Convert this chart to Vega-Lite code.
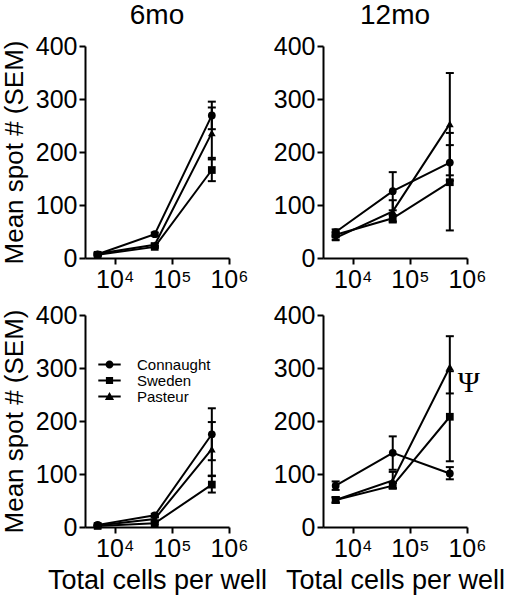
{
  "$schema": "https://vega.github.io/schema/vega-lite/v6.json",
  "background": "white",
  "padding": {"left": 1, "top": 2, "right": 4, "bottom": 4},
  "bounds": "flush",
  "columns": 2,
  "spacing": {"row": 57, "column": 94},
  "resolve": {"scale": {"shape": "independent"}, "legend": {"shape": "independent"}},
  "datasets": {
    "spots": [
      {"age": "6mo", "antigen": "BCG", "strain": "Connaught", "cells": 5000, "mean": 7, "lo": 5, "hi": 9},
      {"age": "6mo", "antigen": "BCG", "strain": "Connaught", "cells": 50000, "mean": 45, "lo": 42, "hi": 48},
      {"age": "6mo", "antigen": "BCG", "strain": "Connaught", "cells": 500000, "mean": 269, "lo": 243, "hi": 295},
      {"age": "6mo", "antigen": "BCG", "strain": "Sweden", "cells": 5000, "mean": 6, "lo": 4, "hi": 8},
      {"age": "6mo", "antigen": "BCG", "strain": "Sweden", "cells": 50000, "mean": 21, "lo": 19, "hi": 23},
      {"age": "6mo", "antigen": "BCG", "strain": "Sweden", "cells": 500000, "mean": 166, "lo": 145, "hi": 189},
      {"age": "6mo", "antigen": "BCG", "strain": "Pasteur", "cells": 5000, "mean": 8, "lo": 6, "hi": 10},
      {"age": "6mo", "antigen": "BCG", "strain": "Pasteur", "cells": 50000, "mean": 25, "lo": 22, "hi": 28},
      {"age": "6mo", "antigen": "BCG", "strain": "Pasteur", "cells": 500000, "mean": 236, "lo": 186, "hi": 284},
      {"age": "12mo", "antigen": "BCG", "strain": "Connaught", "cells": 5000, "mean": 49, "lo": 44, "hi": 54},
      {"age": "12mo", "antigen": "BCG", "strain": "Connaught", "cells": 50000, "mean": 126, "lo": 90, "hi": 162},
      {"age": "12mo", "antigen": "BCG", "strain": "Connaught", "cells": 500000, "mean": 180, "lo": 146, "hi": 213},
      {"age": "12mo", "antigen": "BCG", "strain": "Sweden", "cells": 5000, "mean": 44, "lo": 40, "hi": 48},
      {"age": "12mo", "antigen": "BCG", "strain": "Sweden", "cells": 50000, "mean": 75, "lo": 69, "hi": 81},
      {"age": "12mo", "antigen": "BCG", "strain": "Sweden", "cells": 500000, "mean": 143, "lo": 52, "hi": 236},
      {"age": "12mo", "antigen": "BCG", "strain": "Pasteur", "cells": 5000, "mean": 38, "lo": 34, "hi": 42},
      {"age": "12mo", "antigen": "BCG", "strain": "Pasteur", "cells": 50000, "mean": 88, "lo": 67, "hi": 109},
      {"age": "12mo", "antigen": "BCG", "strain": "Pasteur", "cells": 500000, "mean": 253, "lo": 156, "hi": 349},
      {"age": "6mo", "antigen": "CFP", "strain": "Connaught", "cells": 5000, "mean": 4, "lo": 2, "hi": 6},
      {"age": "6mo", "antigen": "CFP", "strain": "Connaught", "cells": 50000, "mean": 22, "lo": 19, "hi": 25},
      {"age": "6mo", "antigen": "CFP", "strain": "Connaught", "cells": 500000, "mean": 175, "lo": 126, "hi": 224},
      {"age": "6mo", "antigen": "CFP", "strain": "Sweden", "cells": 5000, "mean": 2, "lo": 1, "hi": 3},
      {"age": "6mo", "antigen": "CFP", "strain": "Sweden", "cells": 50000, "mean": 7, "lo": 5, "hi": 9},
      {"age": "6mo", "antigen": "CFP", "strain": "Sweden", "cells": 500000, "mean": 80, "lo": 65, "hi": 96},
      {"age": "6mo", "antigen": "CFP", "strain": "Pasteur", "cells": 5000, "mean": 3, "lo": 2, "hi": 4},
      {"age": "6mo", "antigen": "CFP", "strain": "Pasteur", "cells": 50000, "mean": 15, "lo": 12, "hi": 18},
      {"age": "6mo", "antigen": "CFP", "strain": "Pasteur", "cells": 500000, "mean": 147, "lo": 97, "hi": 198},
      {"age": "12mo", "antigen": "CFP", "strain": "Connaught", "cells": 5000, "mean": 78, "lo": 70, "hi": 86},
      {"age": "12mo", "antigen": "CFP", "strain": "Connaught", "cells": 50000, "mean": 140, "lo": 108, "hi": 171},
      {"age": "12mo", "antigen": "CFP", "strain": "Connaught", "cells": 500000, "mean": 101, "lo": 90, "hi": 113},
      {"age": "12mo", "antigen": "CFP", "strain": "Sweden", "cells": 5000, "mean": 51, "lo": 46, "hi": 56},
      {"age": "12mo", "antigen": "CFP", "strain": "Sweden", "cells": 50000, "mean": 78, "lo": 73, "hi": 83},
      {"age": "12mo", "antigen": "CFP", "strain": "Sweden", "cells": 500000, "mean": 208, "lo": 124, "hi": 294},
      {"age": "12mo", "antigen": "CFP", "strain": "Pasteur", "cells": 5000, "mean": 51, "lo": 46, "hi": 56},
      {"age": "12mo", "antigen": "CFP", "strain": "Pasteur", "cells": 50000, "mean": 88, "lo": 73, "hi": 104},
      {"age": "12mo", "antigen": "CFP", "strain": "Pasteur", "cells": 500000, "mean": 302, "lo": 252, "hi": 360, "note": "Ψ"}
    ],
    "labels": [
      {"age": "6mo", "antigen": "BCG", "label": "BCG"},
      {"age": "12mo", "antigen": "BCG", "label": "BCG"},
      {"age": "6mo", "antigen": "CFP", "label": "CFP"},
      {"age": "12mo", "antigen": "CFP", "label": "CFP"}
    ]
  },
  "concat": [
    {
      "width": 144, "height": 212,
      "title": {"text": "6mo"},
      "data": {"name": "spots"},
      "transform": [{"filter": "datum.age === '6mo' && datum.antigen === 'BCG'"}],
      "encoding": {
        "x": {"field": "cells", "type": "quantitative", "title": null,
              "scale": {"type": "log", "domain": [3000, 1000000]},
              "axis": {"values": [10000, 100000, 1000000], "labelExpr": "datum.value == 10000 ? '10⁴' : datum.value == 100000 ? '10⁵' : '10⁶'"}}
      },
      "layer": [
        {"mark": {"type": "rule", "color": "black", "strokeWidth": 2},
         "encoding": {"y": {"field": "lo", "type": "quantitative", "title": "Mean spot # (SEM)", "scale": {"domain": [0, 400]}, "axis": {"values": [0, 100, 200, 300, 400]}}, "y2": {"field": "hi"}}},
        {"mark": {"type": "tick", "orient": "horizontal", "color": "black", "size": 8, "thickness": 2, "opacity": 1},
         "encoding": {"y": {"field": "lo", "type": "quantitative", "title": "Mean spot # (SEM)", "scale": {"domain": [0, 400]}}}},
        {"mark": {"type": "tick", "orient": "horizontal", "color": "black", "size": 8, "thickness": 2, "opacity": 1},
         "encoding": {"y": {"field": "hi", "type": "quantitative", "title": "Mean spot # (SEM)", "scale": {"domain": [0, 400]}}}},
        {"mark": {"type": "line", "color": "black", "strokeWidth": 2},
         "encoding": {"y": {"field": "mean", "type": "quantitative", "title": "Mean spot # (SEM)", "scale": {"domain": [0, 400]}}, "detail": {"field": "strain"}}},
        {"transform": [{"filter": "datum.strain === 'Connaught'"}],
         "mark": {"type": "point", "shape": "circle", "filled": true, "color": "black", "size": 60, "opacity": 1},
         "encoding": {"y": {"field": "mean", "type": "quantitative", "title": "Mean spot # (SEM)", "scale": {"domain": [0, 400]}}}},
        {"transform": [{"filter": "datum.strain === 'Sweden'"}],
         "mark": {"type": "point", "shape": "square", "filled": true, "color": "black", "size": 60, "opacity": 1},
         "encoding": {"y": {"field": "mean", "type": "quantitative", "title": "Mean spot # (SEM)", "scale": {"domain": [0, 400]}}}},
        {"transform": [{"filter": "datum.strain === 'Pasteur'"}],
         "mark": {"type": "point", "shape": "triangle-up", "filled": true, "color": "black", "size": 60, "opacity": 1},
         "encoding": {"y": {"field": "mean", "type": "quantitative", "title": "Mean spot # (SEM)", "scale": {"domain": [0, 400]}}}},
        {"data": {"name": "labels"},
         "transform": [{"filter": "datum.age === '6mo' && datum.antigen === 'BCG'"}],
         "mark": {"type": "text", "align": "left", "baseline": "alphabetic", "fontSize": 25, "font": "Liberation Sans", "color": "black"},
         "encoding": {"x": {"datum": 5200}, "y": {"datum": 353}, "text": {"field": "label"}}}
      ]
    },
    {
      "width": 144, "height": 212,
      "title": {"text": "12mo"},
      "data": {"name": "spots"},
      "transform": [{"filter": "datum.age === '12mo' && datum.antigen === 'BCG'"}],
      "encoding": {
        "x": {"field": "cells", "type": "quantitative", "title": null,
              "scale": {"type": "log", "domain": [3000, 1000000]},
              "axis": {"values": [10000, 100000, 1000000], "labelExpr": "datum.value == 10000 ? '10⁴' : datum.value == 100000 ? '10⁵' : '10⁶'"}}
      },
      "layer": [
        {"mark": {"type": "rule", "color": "black", "strokeWidth": 2},
         "encoding": {"y": {"field": "lo", "type": "quantitative", "title": null, "scale": {"domain": [0, 400]}, "axis": {"values": [0, 100, 200, 300, 400]}}, "y2": {"field": "hi"}}},
        {"mark": {"type": "tick", "orient": "horizontal", "color": "black", "size": 8, "thickness": 2, "opacity": 1},
         "encoding": {"y": {"field": "lo", "type": "quantitative", "title": null, "scale": {"domain": [0, 400]}}}},
        {"mark": {"type": "tick", "orient": "horizontal", "color": "black", "size": 8, "thickness": 2, "opacity": 1},
         "encoding": {"y": {"field": "hi", "type": "quantitative", "title": null, "scale": {"domain": [0, 400]}}}},
        {"mark": {"type": "line", "color": "black", "strokeWidth": 2},
         "encoding": {"y": {"field": "mean", "type": "quantitative", "title": null, "scale": {"domain": [0, 400]}}, "detail": {"field": "strain"}}},
        {"transform": [{"filter": "datum.strain === 'Connaught'"}],
         "mark": {"type": "point", "shape": "circle", "filled": true, "color": "black", "size": 60, "opacity": 1},
         "encoding": {"y": {"field": "mean", "type": "quantitative", "title": null, "scale": {"domain": [0, 400]}}}},
        {"transform": [{"filter": "datum.strain === 'Sweden'"}],
         "mark": {"type": "point", "shape": "square", "filled": true, "color": "black", "size": 60, "opacity": 1},
         "encoding": {"y": {"field": "mean", "type": "quantitative", "title": null, "scale": {"domain": [0, 400]}}}},
        {"transform": [{"filter": "datum.strain === 'Pasteur'"}],
         "mark": {"type": "point", "shape": "triangle-up", "filled": true, "color": "black", "size": 60, "opacity": 1},
         "encoding": {"y": {"field": "mean", "type": "quantitative", "title": null, "scale": {"domain": [0, 400]}}}},
        {"data": {"name": "labels"},
         "transform": [{"filter": "datum.age === '12mo' && datum.antigen === 'BCG'"}],
         "mark": {"type": "text", "align": "left", "baseline": "alphabetic", "fontSize": 25, "font": "Liberation Sans", "color": "black"},
         "encoding": {"x": {"datum": 5200}, "y": {"datum": 353}, "text": {"field": "label"}}}
      ]
    },
    {
      "width": 144, "height": 212,
      "data": {"name": "spots"},
      "transform": [{"filter": "datum.age === '6mo' && datum.antigen === 'CFP'"}],
      "encoding": {
        "x": {"field": "cells", "type": "quantitative", "title": "Total cells per well",
              "scale": {"type": "log", "domain": [3000, 1000000]},
              "axis": {"values": [10000, 100000, 1000000], "labelExpr": "datum.value == 10000 ? '10⁴' : datum.value == 100000 ? '10⁵' : '10⁶'"}}
      },
      "layer": [
        {"mark": {"type": "rule", "color": "black", "strokeWidth": 2},
         "encoding": {"y": {"field": "lo", "type": "quantitative", "title": "Mean spot # (SEM)", "scale": {"domain": [0, 400]}, "axis": {"values": [0, 100, 200, 300, 400]}}, "y2": {"field": "hi"}}},
        {"mark": {"type": "tick", "orient": "horizontal", "color": "black", "size": 8, "thickness": 2, "opacity": 1},
         "encoding": {"y": {"field": "lo", "type": "quantitative", "title": "Mean spot # (SEM)", "scale": {"domain": [0, 400]}}}},
        {"mark": {"type": "tick", "orient": "horizontal", "color": "black", "size": 8, "thickness": 2, "opacity": 1},
         "encoding": {"y": {"field": "hi", "type": "quantitative", "title": "Mean spot # (SEM)", "scale": {"domain": [0, 400]}}}},
        {"mark": {"type": "line", "color": "black", "strokeWidth": 2},
         "encoding": {"y": {"field": "mean", "type": "quantitative", "title": "Mean spot # (SEM)", "scale": {"domain": [0, 400]}}, "detail": {"field": "strain"}}},
        {"transform": [{"filter": "datum.strain === 'Connaught'"}],
         "mark": {"type": "point", "shape": "circle", "filled": true, "color": "black", "size": 60, "opacity": 1},
         "encoding": {"y": {"field": "mean", "type": "quantitative", "title": "Mean spot # (SEM)", "scale": {"domain": [0, 400]}}}},
        {"transform": [{"filter": "datum.strain === 'Sweden'"}],
         "mark": {"type": "point", "shape": "square", "filled": true, "color": "black", "size": 60, "opacity": 1},
         "encoding": {"y": {"field": "mean", "type": "quantitative", "title": "Mean spot # (SEM)", "scale": {"domain": [0, 400]}}}},
        {"transform": [{"filter": "datum.strain === 'Pasteur'"}],
         "mark": {"type": "point", "shape": "triangle-up", "filled": true, "color": "black", "size": 60, "opacity": 1},
         "encoding": {"y": {"field": "mean", "type": "quantitative", "title": "Mean spot # (SEM)", "scale": {"domain": [0, 400]}}}},
        {"transform": [{"filter": "datum.mean < 0"}],
         "mark": {"type": "point", "filled": true, "color": "black", "size": 64, "opacity": 1},
         "encoding": {"y": {"field": "mean", "type": "quantitative", "title": "Mean spot # (SEM)", "scale": {"domain": [0, 400]}},
                      "shape": {"field": "strain", "type": "nominal",
                                "scale": {"domain": ["Connaught", "Sweden", "Pasteur"],
                                          "range": ["M-2.8,-0.25H2.8V0.25H-2.8Z M-1,0A1,1 0 1,1 1,0A1,1 0 1,1 -1,0Z", "M-2.8,-0.25H2.8V0.25H-2.8Z M-0.9,-0.9H0.9V0.9H-0.9Z", "M-2.8,-0.25H2.8V0.25H-2.8Z M0,-1.1L1.15,0.9H-1.15Z"]},
                                "legend": {"orient": "none", "legendX": 17, "legendY": 42, "title": null, "symbolFillColor": "black"}}}},
        {"data": {"name": "labels"},
         "transform": [{"filter": "datum.age === '6mo' && datum.antigen === 'CFP'"}],
         "mark": {"type": "text", "align": "left", "baseline": "alphabetic", "fontSize": 25, "font": "Liberation Sans", "color": "black"},
         "encoding": {"x": {"datum": 5200}, "y": {"datum": 359}, "text": {"field": "label"}}}
      ]
    },
    {
      "width": 144, "height": 212,
      "data": {"name": "spots"},
      "transform": [{"filter": "datum.age === '12mo' && datum.antigen === 'CFP'"}],
      "encoding": {
        "x": {"field": "cells", "type": "quantitative", "title": "Total cells per well",
              "scale": {"type": "log", "domain": [3000, 1000000]},
              "axis": {"values": [10000, 100000, 1000000], "labelExpr": "datum.value == 10000 ? '10⁴' : datum.value == 100000 ? '10⁵' : '10⁶'"}}
      },
      "layer": [
        {"mark": {"type": "rule", "color": "black", "strokeWidth": 2},
         "encoding": {"y": {"field": "lo", "type": "quantitative", "title": null, "scale": {"domain": [0, 400]}, "axis": {"values": [0, 100, 200, 300, 400]}}, "y2": {"field": "hi"}}},
        {"mark": {"type": "tick", "orient": "horizontal", "color": "black", "size": 8, "thickness": 2, "opacity": 1},
         "encoding": {"y": {"field": "lo", "type": "quantitative", "title": null, "scale": {"domain": [0, 400]}}}},
        {"mark": {"type": "tick", "orient": "horizontal", "color": "black", "size": 8, "thickness": 2, "opacity": 1},
         "encoding": {"y": {"field": "hi", "type": "quantitative", "title": null, "scale": {"domain": [0, 400]}}}},
        {"mark": {"type": "line", "color": "black", "strokeWidth": 2},
         "encoding": {"y": {"field": "mean", "type": "quantitative", "title": null, "scale": {"domain": [0, 400]}}, "detail": {"field": "strain"}}},
        {"transform": [{"filter": "datum.strain === 'Connaught'"}],
         "mark": {"type": "point", "shape": "circle", "filled": true, "color": "black", "size": 60, "opacity": 1},
         "encoding": {"y": {"field": "mean", "type": "quantitative", "title": null, "scale": {"domain": [0, 400]}}}},
        {"transform": [{"filter": "datum.strain === 'Sweden'"}],
         "mark": {"type": "point", "shape": "square", "filled": true, "color": "black", "size": 60, "opacity": 1},
         "encoding": {"y": {"field": "mean", "type": "quantitative", "title": null, "scale": {"domain": [0, 400]}}}},
        {"transform": [{"filter": "datum.strain === 'Pasteur'"}],
         "mark": {"type": "point", "shape": "triangle-up", "filled": true, "color": "black", "size": 60, "opacity": 1},
         "encoding": {"y": {"field": "mean", "type": "quantitative", "title": null, "scale": {"domain": [0, 400]}}}},
        {"transform": [{"filter": "datum.note === 'Ψ'"}],
         "mark": {"type": "text", "align": "center", "baseline": "middle", "fontSize": 30, "font": "Liberation Serif", "color": "black", "dx": 19, "dy": 16},
         "encoding": {"y": {"field": "mean", "type": "quantitative", "title": null, "scale": {"domain": [0, 400]}}, "text": {"field": "note"}}},
        {"data": {"name": "labels"},
         "transform": [{"filter": "datum.age === '12mo' && datum.antigen === 'CFP'"}],
         "mark": {"type": "text", "align": "left", "baseline": "alphabetic", "fontSize": 25, "font": "Liberation Sans", "color": "black"},
         "encoding": {"x": {"datum": 5200}, "y": {"datum": 359}, "text": {"field": "label"}}}
      ]
    }
  ],
  "config": {
    "view": {"stroke": null},
    "font": "Liberation Sans",
    "axis": {
      "grid": false, "domainColor": "black", "domainWidth": 2, "tickColor": "black", "tickWidth": 2, "tickSize": 6,
      "labelFont": "Liberation Sans", "labelFontSize": 25, "labelColor": "black", "labelFlush": false, "labelOverlap": false,
      "titleFont": "Liberation Sans", "titleFontSize": 26, "titleFontWeight": "normal", "titleColor": "black"
    },
    "axisY": {"labelPadding": 2, "titlePadding": 8},
    "axisX": {"labelPadding": 3, "titlePadding": 6, "titleFontSize": 27},
    "title": {"font": "Liberation Sans", "fontSize": 28, "fontWeight": "normal", "color": "black", "anchor": "middle", "frame": "group", "offset": 4, "baseline": "alphabetic"},
    "legend": {"labelFont": "Liberation Sans", "labelFontSize": 15, "labelColor": "black", "symbolSize": 64, "symbolStrokeWidth": 0, "rowPadding": -2, "labelOffset": 20, "padding": 0}
  }
}
